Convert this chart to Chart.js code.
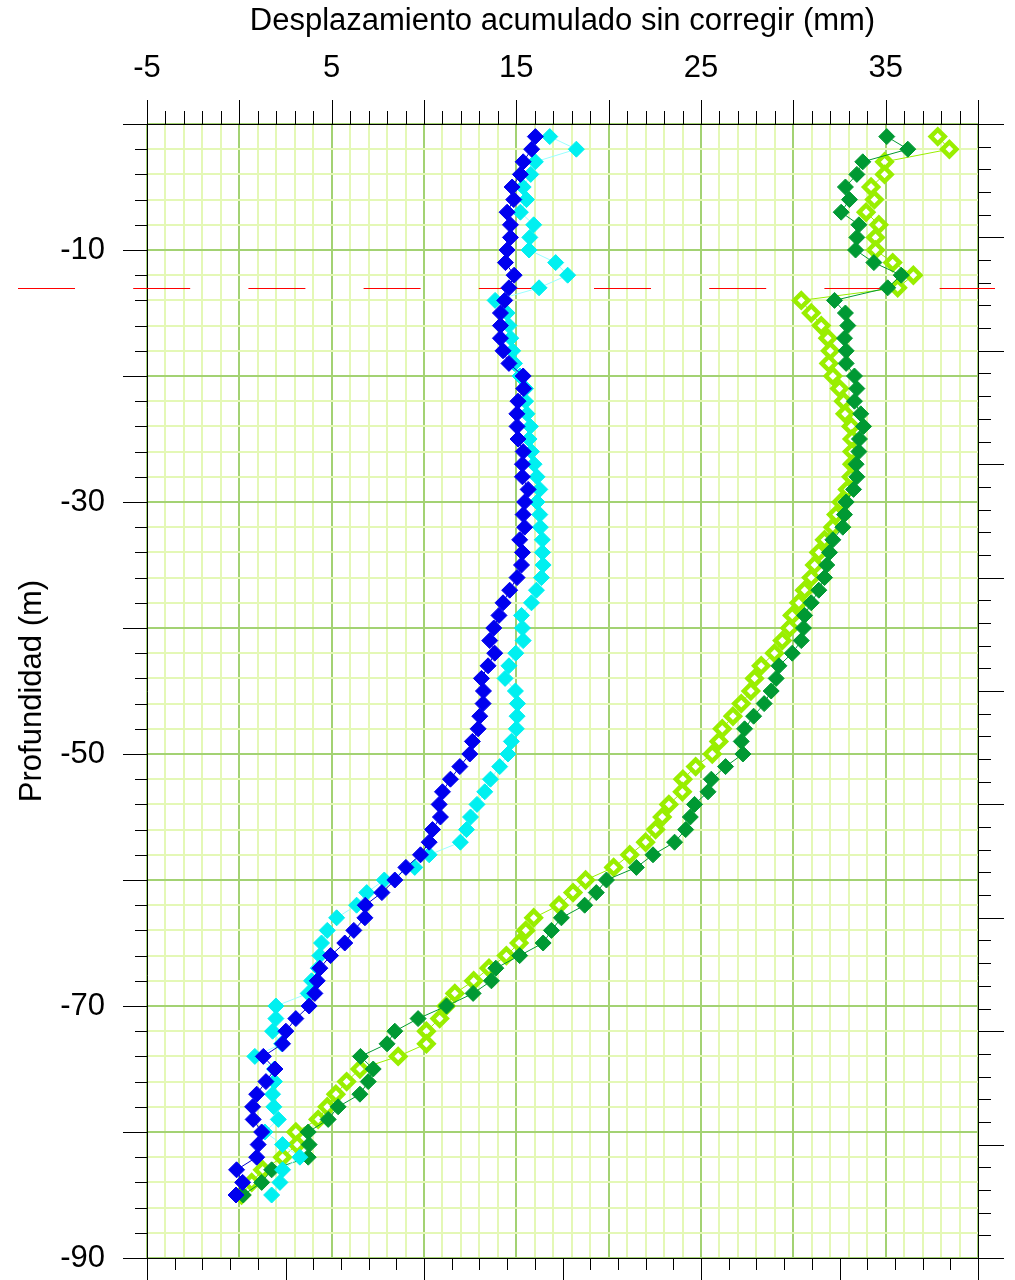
<!DOCTYPE html>
<html>
<head>
<meta charset="utf-8">
<script src="https://cdn.jsdelivr.net/npm/chart.js@4/dist/chart.umd.min.js"></script>
<style>
  html, body { margin: 0; padding: 0; background: #ffffff; }
  canvas { display: block; }
</style>
</head>
<body>
<canvas id="grafico" width="1015" height="1280"></canvas>
<script>
// Profundidad de cada lectura (m)
const profundidad = [
  -1, -2, -3, -4, -5, -6, -7, -8, -9, -10,
  -11, -12, -13, -14, -15, -16, -17, -18, -19, -20,
  -21, -22, -23, -24, -25, -26, -27, -28, -29, -30,
  -31, -32, -33, -34, -35, -36, -37, -38, -39, -40,
  -41, -42, -43, -44, -45, -46, -47, -48, -49, -50,
  -51, -52, -53, -54, -55, -56, -57, -58, -59, -60,
  -61, -62, -63, -64, -65, -66, -67, -68, -69, -70,
  -71, -72, -73, -74, -75, -76, -77, -78, -79, -80,
  -81, -82, -83, -84, -85
];

// Desplazamiento acumulado (mm) de cada serie
const serieAzul = [
  16.03, 15.83, 15.37, 15.22, 14.77, 14.86, 14.50, 14.68, 14.68, 14.50,
  14.41, 14.88, 14.60, 14.37, 14.14, 14.14, 14.14, 14.28, 14.60, 15.37,
  15.40, 15.09, 15.03, 15.04, 15.09, 15.37, 15.33, 15.33, 15.64, 15.45,
  15.37, 15.45, 15.18, 15.33, 15.28, 15.04, 14.64, 14.28, 14.06, 13.78,
  13.56, 13.83, 13.47, 13.11, 13.22, 13.20, 13.02, 12.93, 12.62, 12.48,
  11.94, 11.43, 11.00, 10.82, 10.89, 10.46, 10.28, 9.81, 9.02, 8.42,
  7.72, 6.82, 6.80, 6.20, 5.71, 4.94, 4.36, 4.22, 4.09, 3.78,
  3.06, 2.52, 2.34, 1.30, 1.93, 1.44, 0.94, 0.72, 0.75, 1.21,
  1.02, 0.94, -0.15, 0.18, -0.18
];

const serieCian = [
  16.81, 18.25, 16.03, 15.78, 15.37, 15.55, 15.22, 15.94, 15.73, 15.69,
  17.13, 17.78, 16.23, 13.85, 14.50, 14.60, 14.70, 14.80, 14.90, 15.20,
  15.50, 15.50, 15.58, 15.76, 15.69, 15.82, 15.96, 16.12, 16.27, 16.12,
  16.27, 16.30, 16.41, 16.41, 16.45, 16.36, 16.09, 15.82, 15.28, 15.33,
  15.37, 14.97, 14.60, 14.39, 14.95, 15.06, 15.04, 15.00, 14.73, 14.55,
  14.10, 13.60, 13.29, 12.87, 12.52, 12.30, 11.97, 10.28, 9.50, 7.85,
  6.90, 6.35, 5.27, 4.76, 4.45, 4.36, 4.27, 3.91, 3.73, 1.98,
  1.98, 1.80, 2.29, 0.84, 1.90, 1.90, 1.80, 1.87, 2.11, 1.38,
  2.34, 3.28, 2.34, 2.20, 1.75
];

const serieVerdeOscuro = [
  35.06, 36.20, 33.76, 33.44, 32.82, 33.04, 32.59, 33.55, 33.44, 33.37,
  34.36, 35.84, 35.11, 32.23, 32.82, 32.95, 32.77, 32.86, 32.86, 33.31,
  33.44, 33.31, 33.65, 33.80, 33.58, 33.55, 33.40, 33.44, 33.26, 32.86,
  32.77, 32.68, 32.14, 31.96, 31.81, 31.69, 31.38, 30.97, 30.61, 30.55,
  30.43, 29.94, 29.22, 29.07, 28.80, 28.42, 27.85, 27.36, 27.18, 27.27,
  26.33, 25.56, 25.38, 24.65, 24.42, 24.17, 23.57, 22.40, 21.50, 19.88,
  19.33, 18.70, 17.44, 16.90, 16.45, 15.18, 13.89, 13.65, 12.66, 11.22,
  9.68, 8.42, 8.00, 6.56, 7.25, 6.98, 6.53, 5.35, 4.81, 3.73,
  3.78, 3.73, 1.75, 1.21, 0.21
];

const serieVerdeClaro = [
  37.82, 38.45, 34.94, 34.94, 34.21, 34.39, 33.94, 34.63, 34.45, 34.45,
  35.38, 36.50, 35.65, 30.43, 30.97, 31.51, 31.87, 32.00, 31.92, 32.14,
  32.50, 32.72, 32.80, 33.13, 33.18, 33.18, 33.18, 33.13, 32.93, 32.59,
  32.32, 32.14, 31.69, 31.38, 31.15, 30.97, 30.61, 30.30, 29.94, 29.80,
  29.40, 28.98, 28.26, 27.90, 27.70, 27.18, 26.73, 26.15, 25.97, 25.61,
  24.71, 24.02, 23.99, 23.26, 22.90, 22.54, 22.00, 21.14, 20.27, 18.75,
  18.07, 17.31, 15.94, 15.51, 15.15, 14.46, 13.52, 12.69, 11.67, 11.20,
  10.85, 10.13, 10.13, 8.60, 6.53, 5.81, 5.23, 4.76, 4.27, 3.06,
  3.13, 2.34, 1.26, 0.67, 0.12
];

// Etiquetas visibles de los ejes
const etiquetasX = [-5, 5, 15, 25, 35];
const etiquetasY = [-10, -30, -50, -70, -90];

// Cota de referencia marcada con línea discontinua roja
const cotaReferencia = -13;

const COLOR_MAYOR = '#a3d273';
const COLOR_MENOR = '#e4f8b6';
const FUENTE = '"Liberation Sans", Arial, sans-serif';

Chart.defaults.font.family = FUENTE;
Chart.defaults.color = '#000000';

function puntos(valores) {
  return valores.map((v, i) => ({ x: v, y: profundidad[i] }));
}

function serie(valores, relleno, borde, linea, radio, grosor) {
  return {
    data: puntos(valores),
    showLine: true,
    borderColor: linea,
    borderWidth: 1,
    pointStyle: 'rectRot',
    pointRadius: radio,
    pointBackgroundColor: relleno,
    pointBorderColor: borde,
    pointBorderWidth: grosor,
    clip: false,
    xAxisID: 'x',
    yAxisID: 'y'
  };
}

// Fija el tamaño de cada eje y anula el relleno automático de sus extremos
function tamanoFijo(prop, valor) {
  return (scale) => {
    scale[prop] = valor;
    scale.paddingTop = 0;
    scale.paddingBottom = 0;
    scale.paddingLeft = 0;
    scale.paddingRight = 0;
  };
}

// Marcas de los cuatro ejes (largas en divisiones principales, cortas en secundarias)
const marcasEjes = {
  id: 'marcasEjes',
  afterDraw(chart) {
    const ctx = chart.ctx;
    const s = chart.scales;
    ctx.save();
    ctx.strokeStyle = '#000000';
    ctx.lineWidth = 1;
    ctx.beginPath();
    s.x.ticks.forEach(t => {
      const px = Math.round(s.x.getPixelForValue(t.value)) + 0.5;
      const len = (t.value % 5 === 0) ? 24 : 13;
      ctx.moveTo(px, s.x.bottom);
      ctx.lineTo(px, s.x.bottom - len);
    });
    s.y.ticks.forEach(t => {
      const py = Math.round(s.y.getPixelForValue(t.value)) + 0.5;
      const len = (t.value % 10 === 0) ? 24 : 12;
      ctx.moveTo(s.y.right, py);
      ctx.lineTo(s.y.right - len, py);
    });
    s.y2.ticks.forEach(t => {
      const py = Math.round(s.y2.getPixelForValue(t.value)) + 0.5;
      const len = (t.value % 10 === 0) ? 26 : 13;
      ctx.moveTo(s.y2.left, py);
      ctx.lineTo(s.y2.left + len, py);
    });
    s.x2.ticks.forEach(t => {
      const px = Math.round(s.x2.getPixelForValue(t.value)) + 0.5;
      const len = (t.value % 10 === 0) ? 24 : 12;
      ctx.moveTo(px, s.x2.top);
      ctx.lineTo(px, s.x2.top + len);
    });
    ctx.stroke();
    ctx.restore();
  }
};

// Línea discontinua roja a la cota de referencia
const lineaCota = {
  id: 'lineaCota',
  beforeDatasetsDraw(chart) {
    const ctx = chart.ctx;
    const py = Math.round(chart.scales.y.getPixelForValue(cotaReferencia)) + 0.5;
    ctx.save();
    ctx.strokeStyle = '#ff0000';
    ctx.lineWidth = 1;
    ctx.setLineDash([57, 58.2]);
    ctx.beginPath();
    ctx.moveTo(18, py);
    ctx.lineTo(995, py);
    ctx.stroke();
    ctx.restore();
  }
};

const colorRejilla = (mod) => (c) =>
  (c.tick && c.tick.value % mod === 0) ? COLOR_MAYOR : COLOR_MENOR;

new Chart(document.getElementById('grafico'), {
  type: 'scatter',
  data: {
    datasets: [
      serie(serieAzul, '#0000ee', '#0000ee', '#0000cc', 8, 1),
      serie(serieCian, '#00f0f0', '#00f0f0', '#99ffff', 8, 1),
      serie(serieVerdeOscuro, '#009933', '#009933', '#009933', 8, 1),
      serie(serieVerdeClaro, '#ffffff', '#99ee00', '#99ee00', 7, 4.5)
    ]
  },
  plugins: [lineaCota, marcasEjes],
  options: {
    responsive: false,
    animation: false,
    layout: { padding: 0 },
    plugins: {
      legend: { display: false },
      tooltip: { enabled: false }
    },
    scales: {
      x: {
        type: 'linear',
        position: 'top',
        min: -5,
        max: 40,
        afterFit: tamanoFijo('height', 124),
        ticks: {
          stepSize: 1,
          autoSkip: false,
          maxRotation: 0,
          padding: 37,
          font: { size: 31 },
          color: '#000000',
          callback: (v) => etiquetasX.includes(v) ? String(v) : ''
        },
        grid: {
          color: colorRejilla(5),
          lineWidth: 2,
          drawTicks: false
        },
        border: { display: true, color: '#000000', width: 1 },
        title: {
          display: true,
          text: 'Desplazamiento acumulado sin corregir (mm)',
          font: { size: 31 },
          color: '#000000',
          padding: { top: 3, bottom: 0 }
        }
      },
      y: {
        type: 'linear',
        position: 'left',
        min: -90,
        max: 0,
        afterFit: tamanoFijo('width', 147),
        ticks: {
          stepSize: 2,
          autoSkip: false,
          padding: 42,
          font: { size: 31 },
          color: '#000000',
          callback: (v) => etiquetasY.includes(v) ? String(v) : ''
        },
        grid: {
          color: colorRejilla(10),
          lineWidth: 2,
          drawTicks: false
        },
        border: { display: true, color: '#000000', width: 1 },
        title: {
          display: true,
          text: 'Profundidad (m)',
          font: { size: 31 },
          color: '#000000',
          padding: { top: 14, bottom: 0 }
        }
      },
      y2: {
        type: 'linear',
        position: 'right',
        min: 0,
        max: 100,
        afterFit: tamanoFijo('width', 37),
        ticks: { stepSize: 2, autoSkip: false, display: false },
        grid: { drawOnChartArea: false, drawTicks: false },
        border: { display: true, color: '#000000', width: 1 }
      },
      x2: {
        type: 'linear',
        position: 'bottom',
        min: 0,
        max: 60,
        afterFit: tamanoFijo('height', 22),
        ticks: { stepSize: 2, autoSkip: false, display: false },
        grid: { drawOnChartArea: false, drawTicks: false },
        border: { display: true, color: '#000000', width: 1 }
      }
    }
  }
});
</script>
</body>
</html>
